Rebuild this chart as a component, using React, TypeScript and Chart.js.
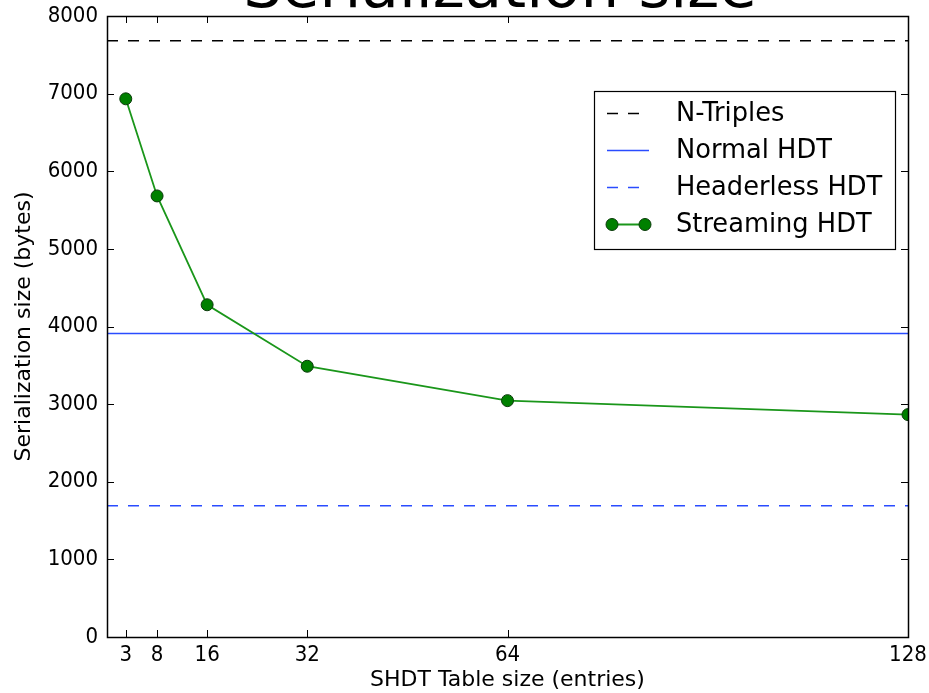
import React, { useEffect, useRef } from "react";
import { Chart, registerables } from "chart.js";

Chart.register(...registerables);

// ---- data ----
const tableSizes = [3, 8, 16, 32, 64, 128];
const streamingHDT = [6933, 5682, 4280, 3488, 3045, 2865];
const nTriplesSize = 7681;
const normalHDTSize = 3910;
const headerlessHDTSize = 1690;
const xRange = [0, 128];
const yTickValues = [0, 1000, 2000, 3000, 4000, 5000, 6000, 7000, 8000];
const seriesLabels = ["N-Triples", "Normal HDT", "Headerless HDT", "Streaming HDT"];
const chartTitle = "Serialization size";
const xTitle = "SHDT Table size (entries)";
const yTitle = "Serialization size (bytes)";

const FONT = "'DejaVu Sans', sans-serif";
const TICK_FONT = "'DejaVu Sans Condensed', 'DejaVu Sans', sans-serif";

const flat = (v: number) => [
  { x: xRange[0], y: v },
  { x: xRange[1], y: v },
];

const framePlugin = {
  id: "framePlugin",
  afterDatasetsDraw(chart: any) {
    const ctx = chart.ctx as CanvasRenderingContext2D;
    const { left, right, top, bottom } = chart.chartArea;
    const xs = chart.scales.x;
    const ys = chart.scales.y;
    ctx.save();
    ctx.strokeStyle = "#000";
    ctx.lineWidth = 1;
    const L = 7;
    ctx.beginPath();
    xs.ticks.forEach((t: any) => {
      const px = Math.round(xs.getPixelForValue(t.value)) + 0.5;
      ctx.moveTo(px, bottom);
      ctx.lineTo(px, bottom - L);
      ctx.moveTo(px, top);
      ctx.lineTo(px, top + L);
    });
    ys.ticks.forEach((t: any) => {
      const py = Math.round(ys.getPixelForValue(t.value)) + 0.5;
      ctx.moveTo(left, py);
      ctx.lineTo(left + L, py);
      ctx.moveTo(right, py);
      ctx.lineTo(right - L, py);
    });
    ctx.stroke();
    ctx.lineWidth = 1.5;
    ctx.strokeRect(Math.round(left) + 0.5, Math.round(top) + 0.5, Math.round(right - left), Math.round(bottom - top));

    // legend
    const bx = 594, by = 91, bw = 301, bh = 158;
    ctx.fillStyle = "#fff";
    ctx.fillRect(bx, by, bw, bh);
    ctx.lineWidth = 1.2;
    ctx.strokeRect(bx + 0.5, by + 0.5, bw, bh);
    const rowY = [113, 150, 187, 224];
    const datasets = chart.data.datasets;
    ctx.font = `25.7px ${FONT}`;
    ctx.textBaseline = "middle";
    ctx.textAlign = "left";
    seriesLabels.forEach((lab, i) => {
      const ds = datasets.find((d: any) => d.label === lab);
      const y = Math.round(rowY[i]) + 0.5;
      ctx.save();
      ctx.strokeStyle = ds.borderColor;
      ctx.lineWidth = ds.borderWidth;
      ctx.setLineDash(ds.borderDash || []);
      ctx.beginPath();
      ctx.moveTo(607, y);
      ctx.lineTo(649, y);
      ctx.stroke();
      ctx.restore();
      if (ds.pointRadius > 0) {
        [612, 645].forEach((cx) => {
          ctx.beginPath();
          ctx.arc(cx, y, ds.pointRadius, 0, Math.PI * 2);
          ctx.fillStyle = ds.pointBackgroundColor;
          ctx.fill();
          ctx.lineWidth = 1;
          ctx.strokeStyle = ds.pointBorderColor;
          ctx.stroke();
        });
      }
      ctx.fillStyle = "#000";
      ctx.fillText(lab, 676, rowY[i] + 1);
    });

    // title (partly off the top of the figure)
    ctx.font = `61px ${FONT}`;
    ctx.textAlign = "center";
    ctx.textBaseline = "alphabetic";
    ctx.fillStyle = "#000";
    ctx.fillText(chartTitle, 500, 7);
    ctx.restore();
  },
};

export default function App() {
  const ref = useRef<HTMLCanvasElement>(null);
  useEffect(() => {
    document.body.style.margin = "0";
    const canvas = ref.current!;
    const chart = new Chart(canvas, {
      type: "line",
      data: {
        datasets: [
          {
            label: "Streaming HDT",
            data: tableSizes.map((x, i) => ({ x, y: streamingHDT[i] })),
            borderColor: "#1a961a",
            borderWidth: 1.8,
            pointRadius: 6,
            pointHoverRadius: 6,
            pointBackgroundColor: "#008000",
            pointBorderColor: "#0a3a0a",
            pointBorderWidth: 1,
            tension: 0,
            clip: 0,
            order: 0,
          } as any,
          {
            label: "N-Triples",
            data: flat(nTriplesSize),
            borderColor: "#000",
            borderWidth: 1.6,
            borderDash: [11, 10],
            pointRadius: 0,
            clip: 0,
            order: 3,
          } as any,
          {
            label: "Normal HDT",
            data: flat(normalHDTSize),
            borderColor: "#2a4cff",
            borderWidth: 1.6,
            pointRadius: 0,
            clip: 0,
            order: 2,
          } as any,
          {
            label: "Headerless HDT",
            data: flat(headerlessHDTSize),
            borderColor: "#2a4cff",
            borderWidth: 1.6,
            borderDash: [11, 10],
            pointRadius: 0,
            clip: 0,
            order: 1,
          } as any,
        ],
      },
      options: {
        animation: false,
        responsive: false,
        events: [],
        layout: { padding: { left: 0, right: 21, top: 16, bottom: 0 } },
        plugins: {
          legend: { display: false },
          tooltip: { enabled: false },
          title: { display: false },
        },
        scales: {
          x: {
            type: "linear",
            min: xRange[0],
            max: xRange[1],
            grid: { display: false, drawTicks: false },
            border: { display: false },
            afterBuildTicks: (s: any) => {
              s.ticks = tableSizes.map((v) => ({ value: v }));
            },
            afterFit: (s: any) => {
              s.height = 56;
              s.paddingLeft = 0;
              s.paddingRight = 0;
            },
            ticks: {
              autoSkip: false,
              maxRotation: 0,
              padding: 5,
              color: "#000",
              font: { family: TICK_FONT, size: 22 },
              callback: (v: any) => String(v),
            },
            title: {
              display: true,
              text: xTitle,
              color: "#000",
              font: { family: FONT, size: 22 },
              padding: { top: 0, bottom: 0 },
            },
          },
          y: {
            type: "linear",
            min: 0,
            max: 8000,
            grid: { display: false, drawTicks: false },
            border: { display: false },
            afterBuildTicks: (s: any) => {
              s.ticks = yTickValues.map((v) => ({ value: v }));
            },
            afterFit: (s: any) => {
              s.width = 107;
              s.paddingTop = 0;
              s.paddingBottom = 0;
            },
            ticks: {
              padding: 9,
              color: "#000",
              font: { family: TICK_FONT, size: 22 },
              callback: (v: any) => String(v),
            },
            title: {
              display: true,
              text: yTitle,
              color: "#000",
              font: { family: FONT, size: 22 },
              padding: { top: 11, bottom: 0 },
            },
          },
        },
      },
      plugins: [framePlugin],
    });
    return () => chart.destroy();
  }, []);
  return (
    <div style={{ position: "absolute", left: 0, top: 0, width: 929, height: 693 }}>
      <canvas ref={ref} width={929} height={693} style={{ width: 929, height: 693 }} />
    </div>
  );
}
